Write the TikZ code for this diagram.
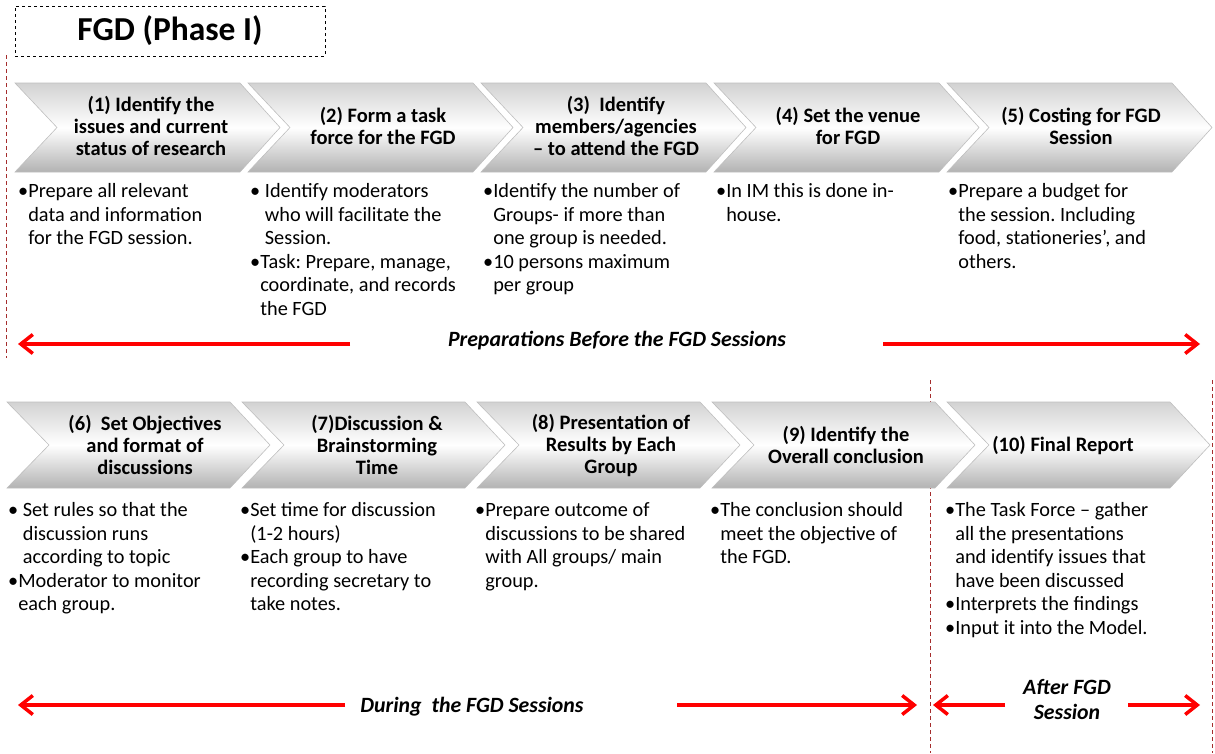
\documentclass[tikz,border=0pt]{standalone}
\usepackage{fontspec}
\setmainfont{Carlito}
\usetikzlibrary{arrows.meta, positioning}
\definecolor{sepred}{RGB}{165,45,45}
\definecolor{spanred}{RGB}{255,0,0}
\frenchspacing

% chevron: left x, top y, bottom y, body width
\newcommand{\chevshape}[4]{%
  \shade[chev] (#1,#2) -- ++(#4,0) -- (#1+#4+40,{(#2+#3)/2}) -- (#1+#4,#3)
    -- (#1,#3) -- (#1+42,{(#2+#3)/2}) -- cycle;}

\begin{document}
\begin{tikzpicture}[x=1pt, y=-1pt,
  chev/.style={draw=gray!50, line width=0.6pt, top color=gray!35, bottom color=gray!60, middle color=white},
  ttl/.style={font=\fontsize{20.5}{22}\selectfont\bfseries, align=center, inner sep=0pt},
  bul/.style={anchor=north west, inner sep=0pt, font=\fontsize{20.3}{23.5}\selectfont},
  phase/.style={font=\fontsize{21.8}{25}\selectfont\bfseries\itshape, align=center},
  span/.style={draw=spanred, line width=3.5pt, -{Straight Barb[length=12pt, width=19pt]}},
  sep/.style={draw=sepred, line width=0.8pt, dash pattern=on 4pt off 3pt}]
  \useasboundingbox (0,0) rectangle (1215,753);

  % title
  \node[draw, dashed, line width=0.8pt, minimum width=310pt, minimum height=50pt,
        font=\fontsize{33.5}{36}\selectfont\bfseries] (title) at (170,31) {FGD (Phase I)};

  % phase separators
  \draw[sep] (6,55) -- (6,358);
  \draw[sep] (930,380) -- (930,753);
  \draw[sep] (1212,380) -- (1212,753);

  % chevrons
  \foreach \k in {0,...,4} {\chevshape{15+233*\k}{83}{172}{225}}
  \foreach \k in {0,...,4} {\chevshape{7+235*\k}{402}{488}{223}}

  \node[ttl] (t1) at (151,126) {(1) Identify the\\issues and current\\status of research};
  \node[ttl] (t2) at (383,126) {(2) Form a task\\force for the FGD};
  \node[ttl] (t3) at (616,126) {(3)\ \ Identify\\members/agencies\\-- to attend the FGD};
  \node[ttl] (t4) at (848,126) {(4) Set the venue\\for FGD};
  \node[ttl] (t5) at (1081,126) {(5) Costing for FGD\\Session};
  \node[ttl] (t6) at (145,445) {(6)\ \ Set Objectives\\and format of\\discussions};
  \node[ttl] (t7) at (377,445) {(7)Discussion \&\\Brainstorming\\Time};
  \node[ttl] (t8) at (611,445) {(8) Presentation of\\Results by Each\\Group};
  \node[ttl] (t9) at (846,445) {(9) Identify the\\Overall conclusion};
  \node[ttl] (t10) at (1063,445) {(10) Final Report};

  % bullet notes
  \node[bul] (b1) at (18,181) {\begin{tabular}{@{}l@{}l@{}}\textbullet&Prepare all relevant\\&data and information\\&for the FGD session.\end{tabular}};
  \node[bul] (b2) at (250,181) {\begin{tabular}{@{}l@{}l@{}}\textbullet&\ Identify moderators\\&\ who will facilitate the\\&\ Session.\\\textbullet&Task: Prepare, manage,\\&coordinate, and records\\&the FGD\end{tabular}};
  \node[bul] (b3) at (483,181) {\begin{tabular}{@{}l@{}l@{}}\textbullet&Identify the number of\\&Groups- if more than\\&one group is needed.\\\textbullet&10 persons maximum\\&per group\end{tabular}};
  \node[bul] (b4) at (716,181) {\begin{tabular}{@{}l@{}l@{}}\textbullet&In IM this is done in-\\&house.\end{tabular}};
  \node[bul] (b5) at (948,181) {\begin{tabular}{@{}l@{}l@{}}\textbullet&Prepare a budget for\\&the session. Including\\&food, stationeries', and\\&others.\end{tabular}};
  \node[bul] (b6) at (8,500) {\begin{tabular}{@{}l@{}l@{}}\textbullet&\ Set rules so that the\\&\ discussion runs\\&\ according to topic\\\textbullet&Moderator to monitor\\&each group.\end{tabular}};
  \node[bul] (b7) at (240,500) {\begin{tabular}{@{}l@{}l@{}}\textbullet&Set time for discussion\\&(1-2 hours)\\\textbullet&Each group to have\\&recording secretary to\\&take notes.\end{tabular}};
  \node[bul] (b8) at (475,500) {\begin{tabular}{@{}l@{}l@{}}\textbullet&Prepare outcome of\\&discussions to be shared\\&with All groups/ main\\&group.\end{tabular}};
  \node[bul] (b9) at (710,500) {\begin{tabular}{@{}l@{}l@{}}\textbullet&The conclusion should\\&meet the objective of\\&the FGD.\end{tabular}};
  \node[bul] (b10) at (945,500) {\begin{tabular}{@{}l@{}l@{}}\textbullet&The Task Force -- gather\\&all the presentations\\&and identify issues that\\&have been discussed\\\textbullet&Interprets the findings\\\textbullet&Input it into the Model.\end{tabular}};

  % phase spans
  \node[phase] (prep) at (617,341) {Preparations Before the FGD Sessions};
  \coordinate (p0) at (18,344);   \coordinate (p1) at (350,344);
  \coordinate (p2) at (883,344);  \coordinate (p3) at (1200,344);
  \draw[span] (p1) -- (p0);
  \draw[span] (p2) -- (p3);

  \node[phase] (during) at (472,707) {During\ \ the FGD Sessions};
  \coordinate (d0) at (18,705);   \coordinate (d1) at (345,705);
  \coordinate (d2) at (677,705);  \coordinate (d3) at (917,705);
  \draw[span] (d1) -- (d0);
  \draw[span] (d2) -- (d3);

  \node[phase] (after) at (1067,699) {After FGD\\Session};
  \coordinate (a0) at (933,705);  \coordinate (a1) at (1005,705);
  \coordinate (a2) at (1128,705); \coordinate (a3) at (1200,705);
  \draw[span] (a1) -- (a0);
  \draw[span] (a2) -- (a3);
\end{tikzpicture}
\end{document}
